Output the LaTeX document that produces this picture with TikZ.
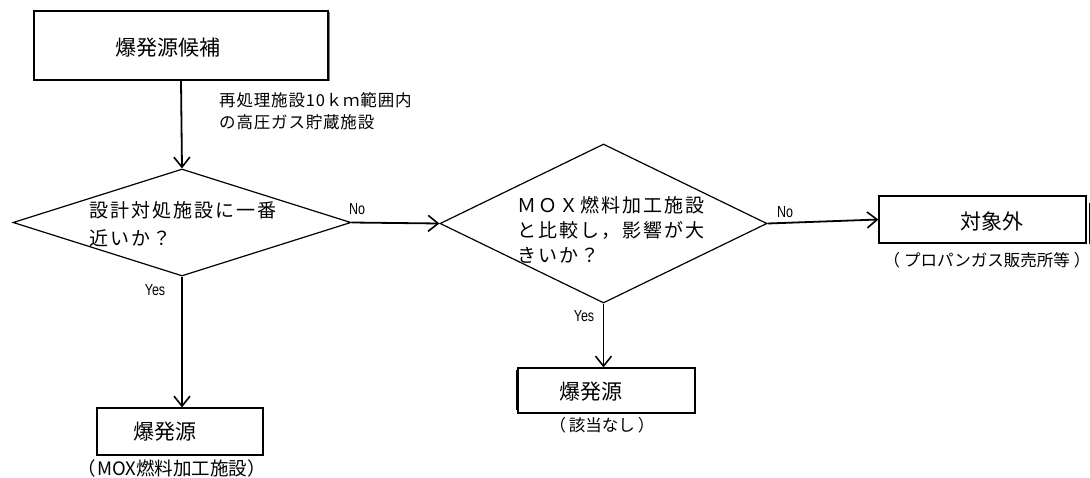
\documentclass[tikz,border=0pt]{standalone}
\usepackage{fontspec}
\setmainfont{Noto Sans CJK JP}
\newfontfamily\latnarrow[FakeStretch=0.78]{Liberation Sans}
\usetikzlibrary{arrows.meta,shapes.geometric}
\tikzset{
  boxst/.style={draw, line width=1.2pt, inner sep=0pt},
  dia/.style={draw, shape=diamond, line width=1.2pt, inner sep=0pt},
  arr/.style={line width=1.8pt, -{Straight Barb[length=10pt,width=16pt,line width=1.6pt]}},
  bigt/.style={font=\fontsize{21}{24}\selectfont, inner sep=0pt},
  qt/.style={font=\fontsize{19}{22}\selectfont\addfontfeature{LetterSpace=10.5}, anchor=west, inner sep=0pt},
  subt/.style={font=\fontsize{16.5}{20}\selectfont, inner sep=0pt},
  subm/.style={font=\fontsize{18.5}{22}\selectfont, inner sep=0pt},
  yn/.style={font=\latnarrow\fontsize{16}{18}\selectfont, inner sep=0pt},
  lab/.style={font=\fontsize{16.5}{19}\selectfont\addfontfeature{LetterSpace=5}, anchor=west, inner sep=0pt}
}
\begin{document}
\begin{tikzpicture}[x=1pt,y=-1pt]
\useasboundingbox[fill=white] (0,0) rectangle (1090,477);
% boxes
\node[boxst, minimum width=294pt, minimum height=69pt] (b1) at (181,45.5) {};
\node[bigt] (b1t) at (168,48) {爆発源候補};
\node[boxst, minimum width=207pt, minimum height=47pt] (b3) at (982.5,219.5) {};
\node[bigt] (b3t) at (992,222) {対象外};
\node[subt] (b3s) at (987,260) {（\kern4pt プロパンガス販売所等\kern4pt）};
\node[boxst, minimum width=177pt, minimum height=45pt] (b4) at (606.5,390.5) {};
\node[bigt] (b4t) at (591,392) {爆発源};
\node[subt] (b4s) at (602,425) {（\kern3pt 該当なし\kern3pt）};
\node[boxst, minimum width=166pt, minimum height=47pt] (b5) at (180,431.5) {};
\node[bigt] (b5t) at (165,432) {爆発源};
\node[subm] (b5s) at (172,468) {（\kern1pt MOX燃料加工施設\kern1pt）};
% box edge accents
\coordinate (b1a) at (329.5,12);
\coordinate (b1b) at (329.5,81);
\draw[line width=0.8pt, gray] (b1a) -- (b1b);
\coordinate (b3a) at (1089,203);
\coordinate (b3b) at (1089,244);
\draw[line width=1pt] (b3a) -- (b3b);
\coordinate (b4a) at (517,370);
\coordinate (b4b) at (517,410);
\draw[line width=2.4pt] (b4a) -- (b4b);
% diamonds
\node[dia, minimum width=338pt, minimum height=107pt] (d1) at (182,222.5) {};
\node[qt] (d1a) at (89,210) {設計対処施設に一番};
\node[qt] (d1b) at (89,238) {近いか？};
\node[dia, minimum width=327pt, minimum height=159pt] (d2) at (603.5,223.5) {};
\node[qt] (d2a) at (517,205) {ＭＯＸ燃料加工施設};
\node[qt] (d2b) at (517,230) {と比較し，影響が大};
\node[qt] (d2c) at (517,255) {きいか？};
% label
\node[lab] (l1) at (219,100) {再処理施設10ｋｍ範囲内};
\node[lab] (l2) at (219,122) {の高圧ガス貯蔵施設};
% yes/no
\node[yn] (n1) at (357,209) {No};
\node[yn] (y1) at (155,290) {Yes};
\node[yn] (n2) at (785,212) {No};
\node[yn] (y2) at (584,316) {Yes};
% connectors
\draw[arr] (b1.south) -- (d1.north);
\draw[arr] (d1.east) -- (d2.west);
\draw[arr] (d2.east) -- (b3.west);
\draw[arr] (d1.south) -- (d1.south |- b5.north);
\draw[arr] (d2.south) -- (d2.south |- b4.north);
\end{tikzpicture}
\end{document}
